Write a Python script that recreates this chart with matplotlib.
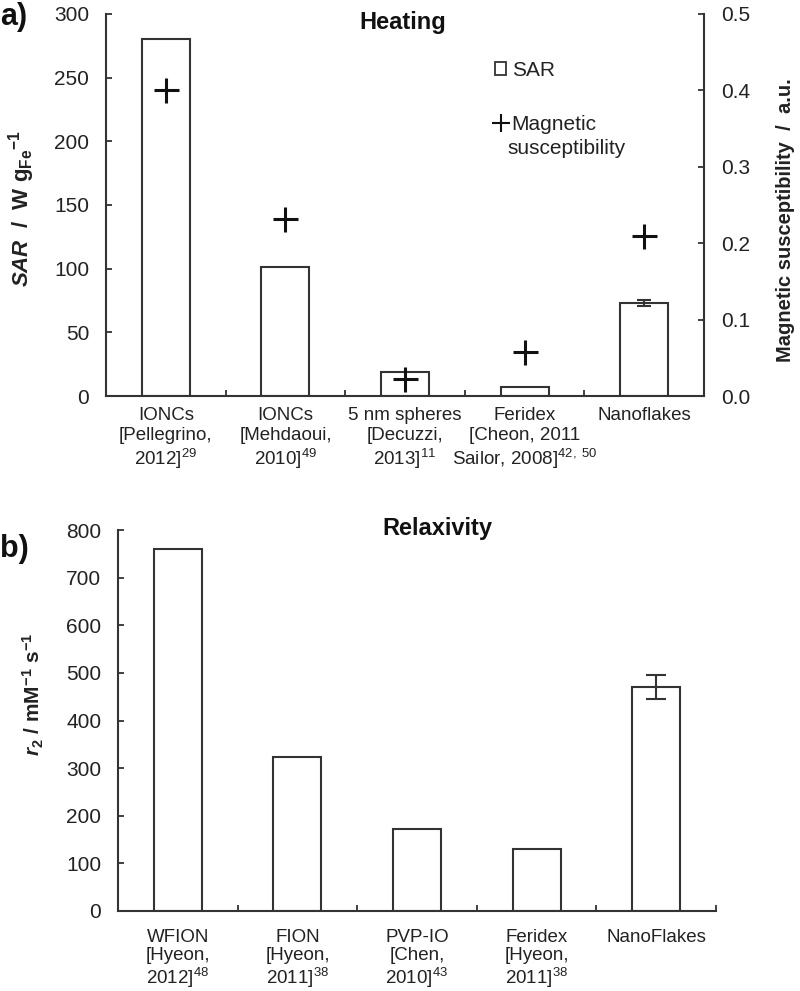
import matplotlib
matplotlib.use("Agg")
import matplotlib.pyplot as plt
from matplotlib.patches import Rectangle
from matplotlib.lines import Line2D
from matplotlib.ticker import FormatStrFormatter, FixedLocator

# ---------------- data ----------------
heat_labels = [
    "IONCs\n[Pellegrino,\n2012]$^{29}$",
    "IONCs\n[Mehdaoui,\n2010]$^{49}$",
    "5 nm spheres\n[Decuzzi,\n2013]$^{11}$",
    "Feridex\n[Cheon, 2011\nSailor, 2008]$^{42,\\ 50}$",
    "Nanoflakes\n\n",
]
sar_values = [280, 101, 19, 7, 73]
sar_errors = [0, 0, 0, 0, 2.5]
susceptibility = [0.40, 0.232, 0.022, 0.058, 0.21]

relax_labels = [
    "WFION\n[Hyeon,\n2012]$^{48}$",
    "FION\n[Hyeon,\n2011]$^{38}$",
    "PVP-IO\n[Chen,\n2010]$^{43}$",
    "Feridex\n[Hyeon,\n2011]$^{38}$",
    "NanoFlakes\n\n",
]
r2_values = [760, 323, 172, 130, 470]
r2_errors = [0, 0, 0, 0, 25]

heat_yticks = [0, 50, 100, 150, 200, 250, 300]
sus_yticks = [0.0, 0.1, 0.2, 0.3, 0.4, 0.5]
relax_yticks = [0, 100, 200, 300, 400, 500, 600, 700, 800]

# ---------------- fonts ----------------
plt.rcParams["font.family"] = ["Liberation Sans", "DejaVu Sans"]
plt.rcParams["mathtext.fontset"] = "custom"
plt.rcParams["mathtext.rm"] = "Liberation Sans"
plt.rcParams["mathtext.it"] = "Liberation Sans:italic"
plt.rcParams["mathtext.bf"] = "Liberation Sans:bold"
plt.rcParams["mathtext.bfit"] = "Liberation Sans:italic:bold"

TXT = "#222222"
EDGE = "#333333"
tick_fs = 15
xlab_fs = 13.5

fig = plt.figure(figsize=(8, 9.91), dpi=100)

def style_x(ax, labels, pad, ls):
    n = len(labels)
    ax.set_xlim(-0.5, n - 0.5)
    ax.set_xticks(range(n))
    ax.set_xticklabels(labels, fontsize=xlab_fs, color=TXT,
                       linespacing=ls, va="top")
    ax.tick_params(axis="x", which="major", length=0, pad=pad)
    ax.xaxis.set_minor_locator(FixedLocator([i + 0.5 for i in range(n)]))
    ax.tick_params(axis="x", which="minor", direction="in", length=4,
                   width=1.3, color=EDGE)
    ax.spines["bottom"].set_linewidth(1.5)
    ax.spines["bottom"].set_color(EDGE)

# ---------------- panel a ----------------
axa = fig.add_axes([106 / 800, 1 - 396 / 991, 598 / 800, 382 / 991])
x = range(len(sar_values))
axa.bar(x, sar_values, width=0.4, facecolor="white", edgecolor=EDGE,
        linewidth=1.5, zorder=2)
axa.errorbar([4], [sar_values[4]], yerr=[sar_errors[4]], fmt="none",
             ecolor=EDGE, elinewidth=1.5, capsize=5, capthick=1.5, zorder=3)
axa.set_ylim(0, 300)
axa.set_yticks(heat_yticks)
axa.tick_params(axis="y", direction="in", length=4, width=1.3, color=EDGE,
                labelsize=tick_fs, labelcolor=TXT, pad=12)
style_x(axa, heat_labels, pad=8, ls=1.2)
axa.spines["top"].set_visible(False)
axa.spines["right"].set_visible(False)
axa.spines["left"].set_linewidth(1.5)
axa.spines["left"].set_color(EDGE)
axa.set_ylabel(r"$\mathbfit{SAR}$  /  W g$_{\mathbf{Fe}}$$^{\mathbf{-1}}$",
               fontsize=16, fontweight="bold", color=TXT)
axa.yaxis.set_label_coords(-0.115, 0.49)

axr = axa.twinx()
axr.plot(list(x), susceptibility, linestyle="none", marker="+",
         markersize=18, markeredgewidth=2.2, color="#111111", zorder=4)
axr.set_ylim(0, 0.5)
axr.set_yticks(sus_yticks)
axr.yaxis.set_major_formatter(FormatStrFormatter("%.1f"))
axr.tick_params(axis="y", direction="in", length=4, width=1.3, color=EDGE,
                labelsize=tick_fs, labelcolor=TXT, pad=12)
for s in ("top", "left", "bottom"):
    axr.spines[s].set_visible(False)
axr.spines["right"].set_linewidth(1.5)
axr.spines["right"].set_color(EDGE)
axr.set_ylabel("Magnetic susceptibility  /  a.u.", fontsize=14.5,
               fontweight="bold", color=TXT, rotation=90)
axr.yaxis.set_label_coords(1.12, 0.46)

handles = [
    Rectangle((0, 0), 1, 1, facecolor="white", edgecolor=EDGE, linewidth=1.3),
    Line2D([], [], linestyle="none", marker="+", markersize=13,
           markeredgewidth=1.5, color="#111111"),
]
leg = axr.legend(handles, ["SAR", "Magnetic"], loc="upper left",
                 bbox_to_anchor=(0.633, 0.905), frameon=False,
                 fontsize=tick_fs, handlelength=0.55, handleheight=0.55,
                 handletextpad=0.25, labelspacing=1.7, borderpad=0)
for t in leg.get_texts():
    t.set_color(TXT)
axr.text(0.672, 0.648, "susceptibility", transform=axr.transAxes,
         fontsize=tick_fs, color=TXT, va="center", ha="left")

fig.text(403 / 800, 1 - 22 / 991, "Heating", fontsize=17, fontweight="bold",
         ha="center", va="center", color="#111111")
fig.text(0 / 800, 1 - 17 / 991, "a)", fontsize=22, fontweight="bold",
         ha="left", va="center", color="#111111")

# ---------------- panel b ----------------
axb = fig.add_axes([118 / 800, 1 - 911 / 991, 598 / 800, 381 / 991])
xb = range(len(r2_values))
axb.bar(xb, r2_values, width=0.4, facecolor="white", edgecolor=EDGE,
        linewidth=1.5, zorder=2)
axb.errorbar([4], [r2_values[4]], yerr=[r2_errors[4]], fmt="none",
             ecolor=EDGE, elinewidth=1.5, capsize=7, capthick=1.5, zorder=3)
axb.set_ylim(0, 800)
axb.set_yticks(relax_yticks)
axb.tick_params(axis="y", direction="in", length=4, width=1.3, color=EDGE,
                labelsize=tick_fs, labelcolor=TXT, pad=12)
style_x(axb, relax_labels, pad=13, ls=1.1)
axb.spines["top"].set_visible(False)
axb.spines["right"].set_visible(False)
axb.spines["left"].set_linewidth(1.5)
axb.spines["left"].set_color(EDGE)
axb.set_ylabel(r"$\mathbfit{r}_{\mathbf{2}}$ / mM$^{\mathbf{-1}}$ s$^{\mathbf{-1}}$",
               fontsize=15, fontweight="bold", color=TXT)
axb.yaxis.set_label_coords(-0.12, 0.57)

fig.text(437 / 800, 1 - 528 / 991, "Relaxivity", fontsize=17,
         fontweight="bold", ha="center", va="center", color="#111111")
fig.text(0 / 800, 1 - 549 / 991, "b)", fontsize=22, fontweight="bold",
         ha="left", va="center", color="#111111")

fig.savefig("out.png", dpi=100, facecolor="white")
